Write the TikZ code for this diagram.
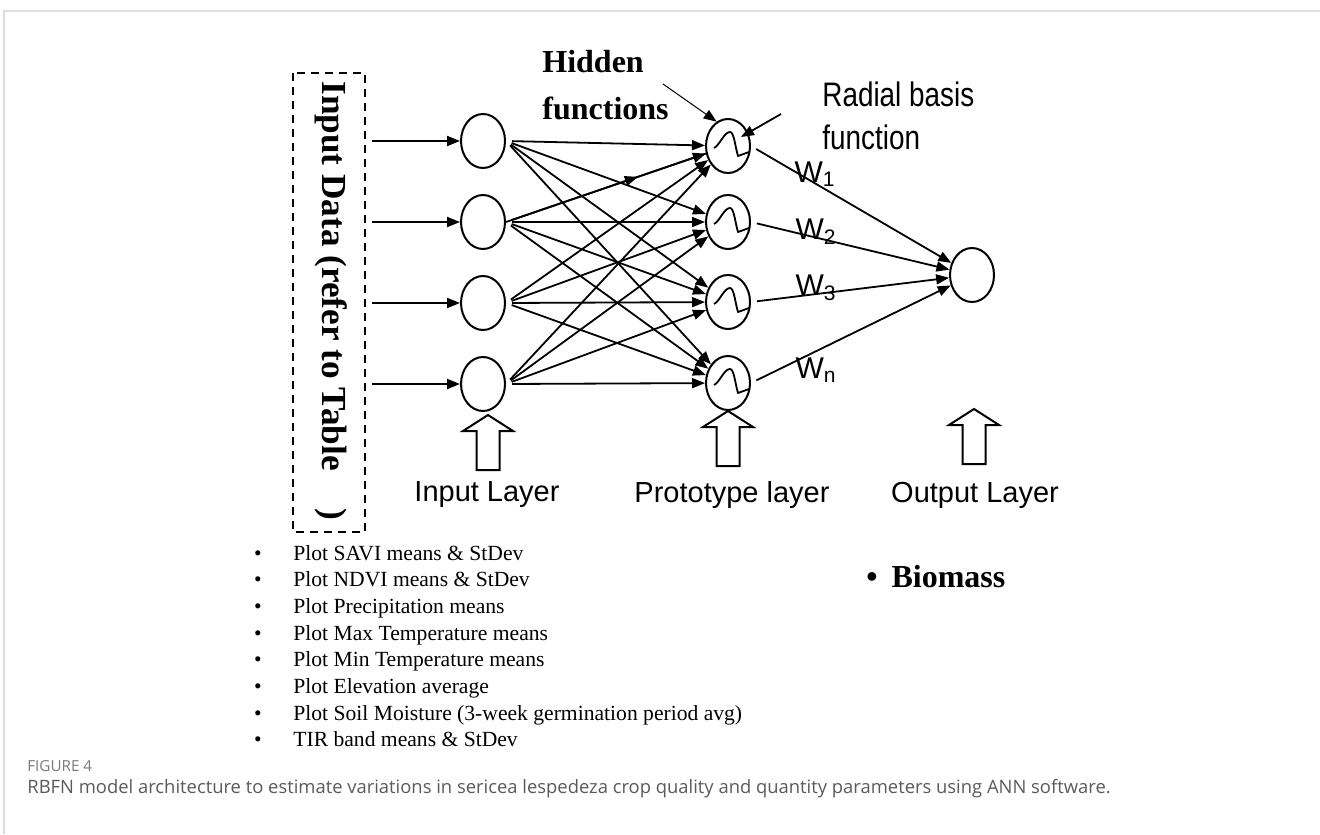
\documentclass[tikz,border=0pt]{standalone}
\usepackage{fontspec}
\setmainfont{Liberation Serif}
\newfontfamily\arialf{Liberation Sans}
\newfontfamily\capf{Open Sans}
\usetikzlibrary{arrows.meta,shapes.geometric,decorations.markings}
\definecolor{framegray}{HTML}{DDDDDD}
\definecolor{capgray}{HTML}{5A5A5A}
\definecolor{figgray}{HTML}{7A7A7A}

\begin{document}
\begin{tikzpicture}[x=0.5pt,y=-0.5pt,
  neuron/.style={draw,ellipse,line width=1pt,minimum width=22pt,minimum height=27pt,inner sep=0pt},
  link/.style={line width=0.9pt,-{Triangle[length=6.5pt,width=5pt]}},
  thinlink/.style={line width=0.5pt,-{Triangle[length=6.5pt,width=5pt]}},
  midarrow/.style={postaction={decorate},decoration={markings,
      mark=at position #1 with {\arrow{Triangle[length=6.5pt,width=5pt]}}}},
  bump/.style={line width=0.9pt,line join=round},
  serifbold/.style={font=\bfseries\fontsize{16}{18}\selectfont,anchor=base west,inner sep=0pt},
  narrowlab/.style={font=\arialf\fontsize{17}{19}\selectfont,anchor=base west,inner sep=0pt},
  sanslab/.style={font=\arialf\fontsize{14.5}{16}\selectfont},
  wlab/.style={font=\arialf\fontsize{15}{17}\selectfont},
  itemtxt/.style={font=\fontsize{10.8}{12}\selectfont,anchor=base west,inner sep=0pt},
  itembul/.style={font=\fontsize{10.8}{12}\selectfont,anchor=base,inner sep=0pt},
  layerarrow/.pic={\draw[line width=1pt,line join=miter]
      (0,-28) -- (25,-12) -- (11.5,-12) -- (11.5,27) -- (-11.5,27)
      -- (-11.5,-12) -- (-25,-12) -- cycle;}
]
\useasboundingbox (0,0) rectangle (1320,834);

% page frame
\draw[framegray,line width=1pt] (4,834) -- (4,11) -- (1320,11);

% input data box
\draw[line width=1pt,dash pattern=on 4pt off 3pt] (293,73) rectangle (365,532);
\node[rotate=-90,font=\bfseries\fontsize{17.6}{19}\selectfont] (indata) at (331,301)
  {Input Data (refer to Table\hspace{19pt})};

% input layer
\foreach \k/\y in {1/141,2/222,3/303,4/384}{
  \node[neuron] (i\k) at (483,\y) {};
  \coordinate (s\k) at (372,\y);
  \draw[link] (s\k) -- (i\k);
}

% prototype layer
\foreach \k/\y in {1/146,2/222,3/302,4/383}{
  \node[neuron] (h\k) at (728,\y) {};
  \begin{scope}[shift={(h\k.center)}]
    \draw[bump] (-14,2) .. controls (-8,-1) and (-4,-14) .. (2,-14)
      .. controls (6,-14) and (7,0) .. (10,10) -- (21,6);
  \end{scope}
}

% output layer
\node[neuron] (o) at (972,275) {};

% full connections input -> prototype
\foreach \a in {1,2,3,4}{
  \foreach \b in {1,2,3,4}{
    \draw[link,shorten <=3pt] (i\a.east) -- (h\b);
  }
}
\draw[midarrow=0.66,line width=0.9pt] (i2.east) -- (h1);

% weighted connections prototype -> output
\foreach \b in {1,2,3,4}{
  \draw[link,shorten <=3pt] (h\b.east) -- (o);
}
\node[wlab] (w1) at (815,174) {W\textsubscript{1}};
\node[wlab] (w2) at (816,232) {W\textsubscript{2}};
\node[wlab] (w3) at (816,288) {W\textsubscript{3}};
\node[wlab] (wn) at (816,370) {W\textsubscript{n}};

% annotations
\node[serifbold] (hid1) at (542,73) {Hidden};
\node[serifbold] (hid2) at (542,120) {functions};
\coordinate (hidfrom) at (663,84);
\draw[thinlink] (hidfrom) -- (h1.115);
\node[narrowlab] (rb1) at (822,107) {\scalebox{0.82}[1]{Radial basis}};
\node[narrowlab] (rb2) at (822,150) {\scalebox{0.82}[1]{function}};
\coordinate (rbfrom) at (781,114);
\draw[link] (rbfrom) -- ([shift={(13,-9)}]h1.center);

% layer markers
\pic at (488,443) {layerarrow};
\pic at (728,439) {layerarrow};
\pic at (974,437) {layerarrow};
\node[sanslab] (lin) at (487,495) {Input Layer};
\node[sanslab] (lpr) at (732,495) {Prototype layer};
\node[sanslab] (lout) at (975,495) {Output Layer};

% input variables
\foreach \t [count=\k] in {{Plot SAVI means \& StDev},{Plot NDVI means \& StDev},
  {Plot Precipitation means},{Plot Max Temperature means},{Plot Min Temperature means},
  {Plot Elevation average},{Plot Soil Moisture (3-week germination period avg)},
  {TIR band means \& StDev}}{
  \node[itembul] (d\k) at (258,{560+26.7*(\k-1)}) {\textbullet};
  \node[itemtxt] (t\k) at (293,{560+26.7*(\k-1)}) {\t};
}

% output variable
\node[font=\bfseries\fontsize{16}{18}\selectfont,anchor=west,inner sep=0pt] (bio) at (866,577)
  {\textbullet\hspace{7pt}Biomass};

% caption
\node[font=\capf\fontsize{7.6}{9}\selectfont,text=figgray,anchor=west,inner sep=0pt] (fig) at (27,766) {FIGURE 4};
\node[font=\capf\fontsize{9.2}{11}\selectfont,text=capgray,anchor=west,inner sep=0pt] (cap) at (27,789)
  {RBFN model architecture to estimate variations in sericea lespedeza crop quality and quantity parameters using ANN software.};
\end{tikzpicture}
\end{document}
